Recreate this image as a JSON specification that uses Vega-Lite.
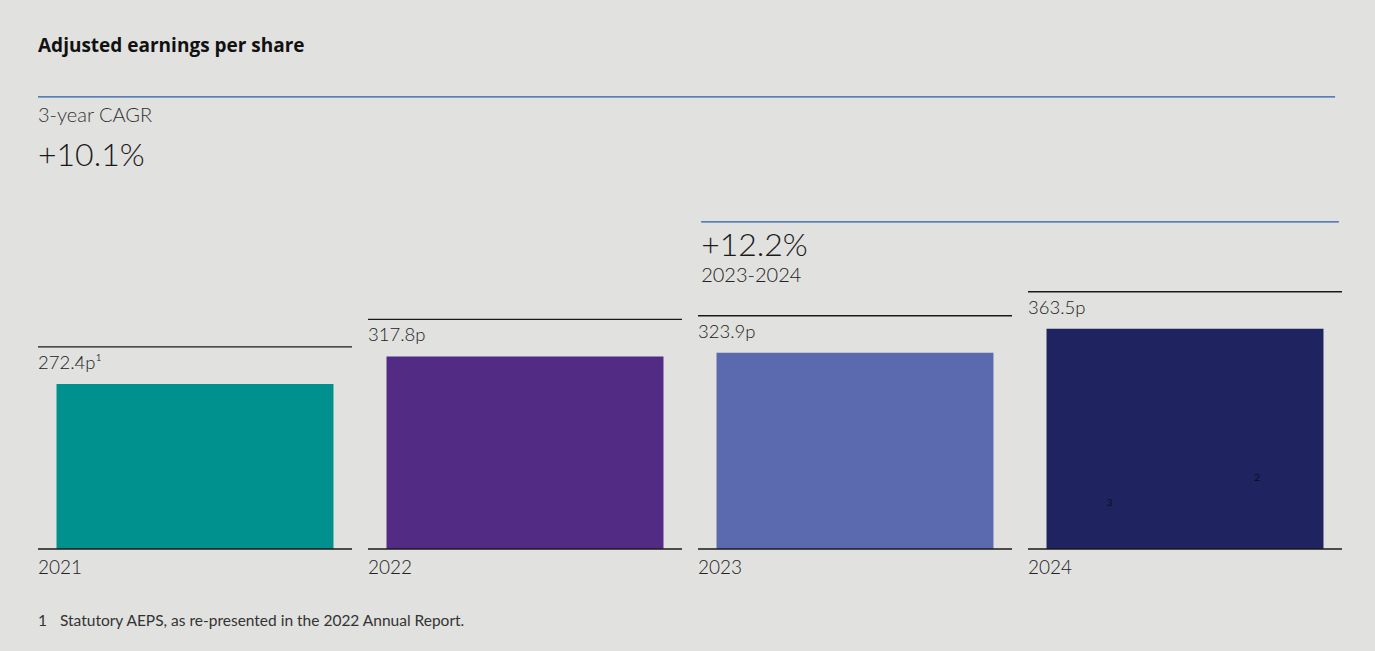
{
  "$schema": "https://vega.github.io/schema/vega-lite/v6.json",
  "autosize": {"type": "none"},
  "width": 1304,
  "height": 489,
  "padding": {"left": 38, "top": 60, "right": 33, "bottom": 102},
  "background": "#e1e1df",
  "config": {"view": {"stroke": null}, "font": "Lato"},
  "title": {"text": "Adjusted earnings per share", "anchor": "start", "frame": "group", "fontSize": 19, "fontWeight": "bold", "color": "#111111", "font": "Open Sans", "offset": -11, "baseline": "alphabetic"},
  "data": {"values": [
    {"year": "2021", "eps": 272.4, "label": "272.4p¹"},
    {"year": "2022", "eps": 317.8, "label": "317.8p"},
    {"year": "2023", "eps": 323.9, "label": "323.9p"},
    {"year": "2024", "eps": 363.5, "label": "363.5p"}
  ]},
  "encoding": {
    "x": {"field": "year", "type": "nominal", "scale": {"paddingInner": 0.0485, "paddingOuter": 0}, "axis": null},
    "y": {"field": "eps", "type": "quantitative", "scale": {"domain": [0, 807], "nice": false, "zero": true}, "axis": null}
  },
  "layer": [
    {
      "mark": {"type": "bar", "width": {"band": 0.882}},
      "encoding": {"color": {"field": "year", "type": "nominal", "scale": {"range": ["#00908e", "#522b84", "#5b69af", "#1f2360"]}, "legend": null}}
    },
    {
      "mark": {"type": "rule", "color": "#1a1a1a", "strokeWidth": 1.3, "yOffset": -37},
      "encoding": {"x": {"field": "year", "type": "nominal", "bandPosition": 0}, "x2": {"field": "year", "bandPosition": 1}}
    },
    {
      "mark": {"type": "rule", "color": "#1a1a1a", "strokeWidth": 1.3},
      "encoding": {"x": {"field": "year", "type": "nominal", "bandPosition": 0}, "x2": {"field": "year", "bandPosition": 1}, "y": {"datum": 0}}
    },
    {
      "mark": {"type": "text", "align": "left", "baseline": "alphabetic", "dy": -15, "fontSize": 18.5, "fontWeight": 300, "color": "#222222"},
      "encoding": {"x": {"field": "year", "type": "nominal", "bandPosition": 0}, "text": {"field": "label"}}
    },
    {
      "mark": {"type": "text", "align": "left", "baseline": "alphabetic", "dy": 25, "fontSize": 19, "fontWeight": 300, "color": "#222222"},
      "encoding": {"x": {"field": "year", "type": "nominal", "bandPosition": 0}, "y": {"datum": 0}, "text": {"field": "year"}}
    },
    {
      "transform": [{"filter": "datum.year === '2021'"}],
      "mark": {"type": "rule", "color": "#2a5ca8", "strokeWidth": 1.3},
      "encoding": {"x": {"field": "year", "type": "nominal", "bandPosition": 0}, "x2": {"datum": "2024", "bandPosition": 0.978}, "y": {"datum": 746}}
    },
    {
      "transform": [{"filter": "datum.year === '2023'"}],
      "mark": {"type": "rule", "color": "#2a5ca8", "strokeWidth": 1.3},
      "encoding": {"x": {"field": "year", "type": "nominal", "bandPosition": 0.01}, "x2": {"datum": "2024", "bandPosition": 0.99}, "y": {"datum": 540}}
    },
    {
      "transform": [{"filter": "datum.year === '2021'"}],
      "mark": {"type": "text", "align": "left", "baseline": "alphabetic", "fontSize": 20, "fontWeight": 300, "color": "#333333", "text": "3-year CAGR"},
      "encoding": {"x": {"field": "year", "type": "nominal", "bandPosition": 0}, "y": {"datum": 705}}
    },
    {
      "transform": [{"filter": "datum.year === '2021'"}],
      "mark": {"type": "text", "align": "left", "baseline": "alphabetic", "fontSize": 32, "fontWeight": 300, "color": "#1a1a1a", "text": "+10.1%"},
      "encoding": {"x": {"field": "year", "type": "nominal", "bandPosition": 0}, "y": {"datum": 632}}
    },
    {
      "transform": [{"filter": "datum.year === '2023'"}],
      "mark": {"type": "text", "align": "left", "baseline": "alphabetic", "fontSize": 32, "fontWeight": 300, "color": "#1a1a1a", "text": "+12.2%"},
      "encoding": {"x": {"field": "year", "type": "nominal", "bandPosition": 0.01}, "y": {"datum": 483}}
    },
    {
      "transform": [{"filter": "datum.year === '2023'"}],
      "mark": {"type": "text", "align": "left", "baseline": "alphabetic", "fontSize": 20, "fontWeight": 300, "color": "#222222", "text": "2023-2024"},
      "encoding": {"x": {"field": "year", "type": "nominal", "bandPosition": 0.01}, "y": {"datum": 440}}
    },
    {
      "transform": [{"filter": "datum.year === '2024'"}],
      "mark": {"type": "text", "align": "center", "baseline": "middle", "fontSize": 10, "color": "#0d0d1a", "text": "2"},
      "encoding": {"x": {"field": "year", "type": "nominal", "bandPosition": 0.73}, "y": {"datum": 117}}
    },
    {
      "transform": [{"filter": "datum.year === '2024'"}],
      "mark": {"type": "text", "align": "center", "baseline": "middle", "fontSize": 10, "color": "#0d0d1a", "text": "3"},
      "encoding": {"x": {"field": "year", "type": "nominal", "bandPosition": 0.26}, "y": {"datum": 76}}
    },
    {
      "transform": [{"filter": "datum.year === '2021'"}],
      "mark": {"type": "text", "align": "left", "baseline": "middle", "dy": 72, "fontSize": 15.5, "color": "#333333", "text": "1"},
      "encoding": {"x": {"field": "year", "type": "nominal", "bandPosition": 0}, "y": {"datum": 0}}
    },
    {
      "transform": [{"filter": "datum.year === '2021'"}],
      "mark": {"type": "text", "align": "left", "baseline": "middle", "dy": 72, "dx": 22, "fontSize": 15.5, "color": "#333333", "text": "Statutory AEPS, as re-presented in the 2022 Annual Report."},
      "encoding": {"x": {"field": "year", "type": "nominal", "bandPosition": 0}, "y": {"datum": 0}}
    }
  ]
}
